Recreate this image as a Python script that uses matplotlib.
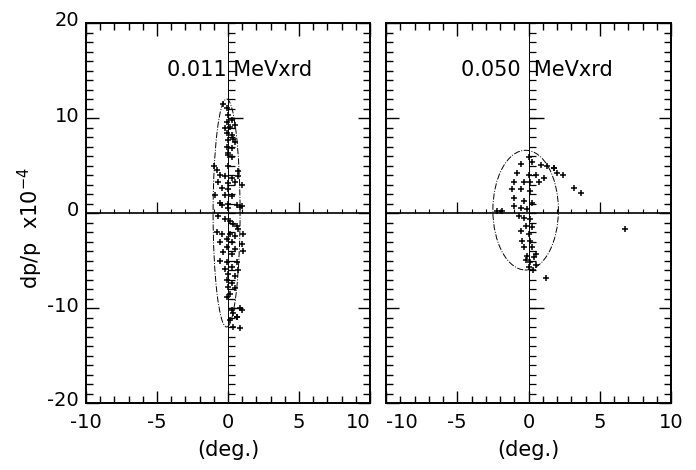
import numpy as np
import matplotlib
matplotlib.use('Agg')
import matplotlib.pyplot as plt
from matplotlib.patches import Ellipse
from matplotlib.ticker import MultipleLocator
import matplotlib.transforms as mtransforms

plt.rcParams['font.family'] = 'DejaVu Sans'
plt.rcParams['axes.unicode_minus'] = False

labels = ['0.011 MeVxrd', '0.050  MeVxrd']

# 0.011 MeVxrd : angle (deg.) vs dp/p (x1e-4)
x_low = [-0.33, -0.1, 0.0, -0.1, 0.26, -0.2, 0.14, 0.5, -0.1, 0.26, 0.37, 0.0, 0.5, -0.1,
         0.26, 0.0, 0.26, 0.0,
         -1.0, -0.8, 0.0, 0.73, -0.56, -0.2, 0.26, 0.73, -0.68, 0.0, 0.5, 0.96, -0.44, 0.0,
         -0.2, 0.26, -0.9, -0.56, 0.0, 0.6, 0.96,
         -0.44, 0.0, 0.85, -0.68, -0.2, 0.14, 0.37, 0.6, 0.73, -0.8, -0.44, 0.14, 0.5, 1.08,
         -0.1, 0.26, -0.56, 0.96, -0.1, 0.5, 1.08, -0.33, 0.26, -0.56, -0.1, 0.6, 0.26, -0.2,
         0.73, 0.0, 0.5, -0.1, 0.26, 0.0, 0.5, 0.14, -0.1,
         0.85, 0.63, 0.85, 0.37, 0.14, 0.96, 0.26, 0.6, 0.37]
y_low = [11.5, 11.1, 10.3, 9.6, 9.8, 8.9, 9.1, 9.3, 8.4, 8.2, 7.8, 7.7, 7.5, 7.0,
         6.8, 6.3, 5.9, 6.1,
         4.9, 4.5, 4.9, 4.4, 4.0, 3.9, 3.7, 3.9, 3.3, 3.2, 3.3, 3.0, 2.6, 2.5,
         1.9, 1.8, 1.9, 1.1, 0.9, 0.8, 0.7,
         0.8, 0.55, 0.6, -0.3, -0.66, -0.83, -1.2, -1.35, -1.7, -2.05, -2.2, -2.2, -2.4, -2.2,
         -2.7, -3.1, -3.1, -3.3, -3.6, -3.8, -4.0, -4.1, -4.3, -5.0, -5.2, -5.2, -5.7, -5.9,
         -6.0, -6.4, -6.6, -7.1, -7.4, -7.8, -7.9, -8.5, -8.8,
         -10.0, -10.9, -12.1, -10.5, -11.3, -10.2, -10.2, -10.9, -12.0]

# 0.050 MeVxrd
x_high = [0.0, -0.56, 0.26, 0.85, 1.3, 1.8, 2.0, -0.8, 0.0, 0.5, 1.08, -1.03, -0.33, 0.14,
          0.73, -1.15, -0.56, 0.14, -1.03, -0.33, 0.26, -1.03, -0.56, -0.1, -2.2, -1.85,
          -0.68, -0.33, 0.14, -0.2, 0.26, -0.56, 0.0, -0.44, 0.14, -0.33, 0.26, -0.1, 0.37,
          0.14, 0.5, 0.0, 0.3, -0.2, 0.5,
          2.4, 3.2, 3.7, 1.8, 6.8, 1.2]
y_high = [5.9, 5.2, 5.4, 5.1, 4.9, 4.7, 4.2, 4.2, 4.0, 4.0, 3.7, 3.3, 3.3, 3.3,
          3.3, 2.5, 2.5, 2.3, 1.6, 1.25, 1.1, 0.7, 0.55, 0.4, 0.2, 0.2,
          -0.3, -0.5, -0.66, -1.35, -1.5, -1.9, -2.2, -2.9, -2.9, -3.6, -3.6, -4.5, -4.65,
          -5.2, -5.5, -5.7, -6.0, -4.9, -4.3,
          4.0, 2.6, 2.1, 4.7, -1.7, -6.8]

# ellipse outlines: centre x, centre y, full width, full height
ell_low = (-0.1, 0.0, 1.9, 24.0)
ell_high = (-0.2, 0.3, 4.6, 12.6)

fig = plt.figure(figsize=(6.96, 4.70), dpi=100)
ax1 = fig.add_axes([86/696, 1-403/470, 284/696, 380/470])
ax2 = fig.add_axes([386/696, 1-403/470, 285/696, 380/470])

panels = [(ax1, x_low, y_low, ell_low, labels[0], 0.8),
          (ax2, x_high, y_high, ell_high, labels[1], 0.56)]

for ax, xs, ys, ell, lab, tx in panels:
    ax.set_xlim(-10, 10)
    ax.set_ylim(-20, 20)
    for s in ax.spines.values():
        s.set_linewidth(1.4)
    ax.xaxis.set_major_locator(MultipleLocator(5))
    ax.xaxis.set_minor_locator(MultipleLocator(1))
    ax.yaxis.set_major_locator(MultipleLocator(10))
    ax.yaxis.set_minor_locator(MultipleLocator(1))
    ax.tick_params(which='both', direction='in', top=True, right=True, width=1.0)
    ax.tick_params(which='major', length=9, labelsize=14)
    ax.tick_params(which='minor', length=5)
    ax.tick_params(axis='x', pad=7)
    ax.tick_params(axis='y', pad=5)

    # the inner axes through the origin
    ax.axhline(0, color='k', lw=1.2)
    ax.axvline(0, color='k', lw=0.7)
    yt = np.arange(-20, 21)
    ax.plot(np.zeros(len(yt)), yt, ls='none', marker=1, ms=5, mew=0.9, color='k')
    ax.plot([0, 0], [-10, 10], ls='none', marker=1, ms=11, mew=1.0, color='k')
    xt = np.arange(-10, 11)
    ax.plot(xt, np.zeros(len(xt)), ls='none', marker=2, ms=3, mew=0.8, color='k')
    ax.plot([-5, 5], [0, 0], ls='none', marker=2, ms=8, mew=0.9, color='k')

    cx, cy, w, h = ell
    ax.add_patch(Ellipse((cx, cy), w, h, fill=False, ec='k', lw=0.7, ls='-.'))
    ax.plot(xs, ys, ls='none', marker='+', ms=4, mew=1.1, color='k')

    ax.text(tx, 15.1, lab, ha='center', va='center', fontsize=15)
    ax.set_xlabel('(deg.)', fontsize=15)
    ax.xaxis.set_label_coords(0.5, -0.097)

ax1.set_xticks([-10, -5, 0, 5, 10])
ax1.set_xticklabels(['-10', '-5', '0', '5', '10'])
ax1.get_xticklabels()[-1].set_ha('right')
ax2.set_xticks([-10, -5, 0, 5, 10])
ax2.set_xticklabels(['-10', '-5', '0', '5', '10'])
ax2.get_xticklabels()[0].set_ha('left')
ax2.set_yticklabels([])

ax1.set_yticks([-20, -10, 0, 10, 20])
ax1.set_yticklabels(['-20', '-10', '0', '10', '20'])
off = mtransforms.ScaledTranslation(0, 0.04, fig.dpi_scale_trans)
for lbl in ax1.get_yticklabels():
    lbl.set_transform(lbl.get_transform() + off)

ax1.set_ylabel('dp/p  x10$^{-4}$', fontsize=15)
ax1.yaxis.set_label_coords(-0.144, 0.46)

fig.savefig('out.png', dpi=100)
